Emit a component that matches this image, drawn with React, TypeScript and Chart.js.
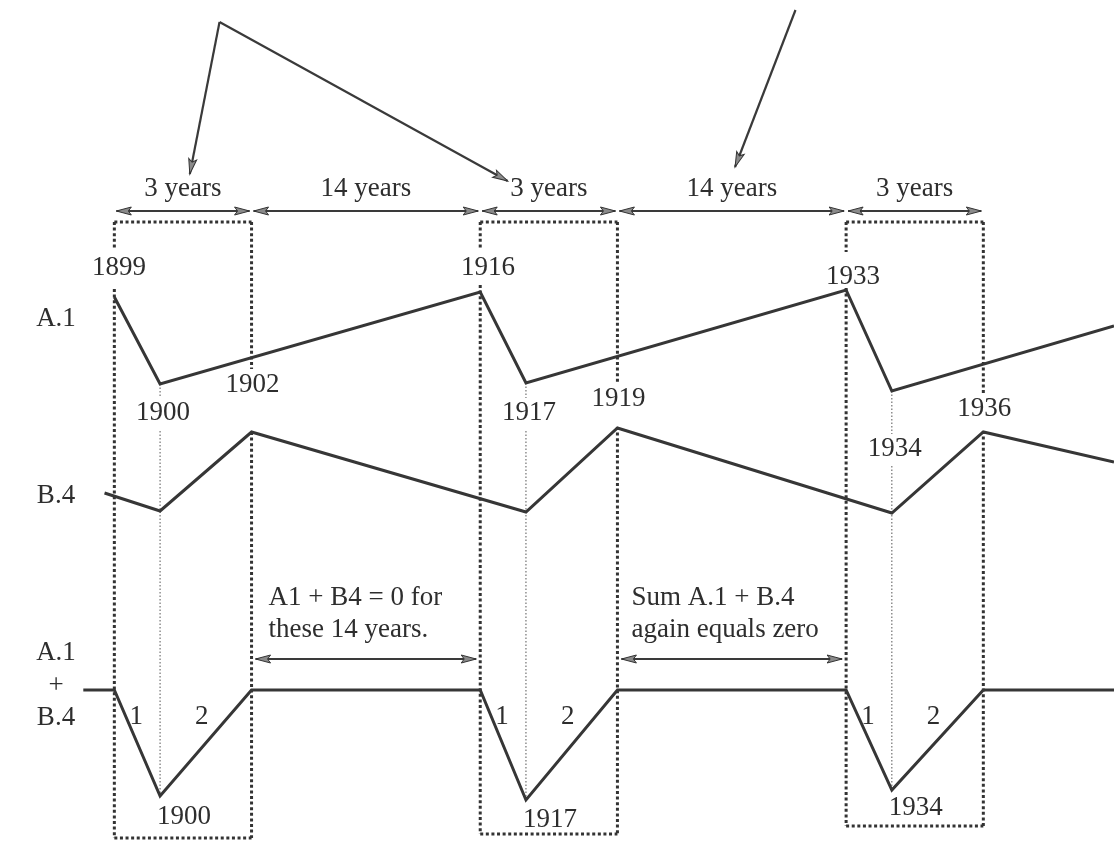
import React, { useEffect, useRef } from "react";
import { Chart, registerables } from "chart.js";

Chart.register(...registerables);

// ---- data (schematic values) ----
const a1Years = [1899, 1900, 1916, 1917, 1933, 1934, 1944];
const a1Values = [8.7, 0, 9.2, 0.1, 9.4, -0.7, 5.8];

const b4Years = [1898.4, 1900, 1902, 1917, 1919, 1934, 1936, 1944];
const b4Values = [1.8, 0, 7.9, -0.1, 8.3, -0.2, 7.9, 4.9];

const sumYears = [1897.1, 1899, 1900, 1902, 1916, 1917, 1919, 1933, 1934, 1936, 1944];
const sumValues = [0, 0, -10.6, 0, 0, -11.0, 0, 0, -10.0, 0, 0];

const boxStarts = [1899, 1916, 1933];
const boxLength = 3;
const spanLabels = ["3 years", "14 years", "3 years", "14 years", "3 years"];
const spanBounds = [1899, 1902, 1916, 1919, 1933, 1936];
const peakLabelsA = ["1899", "1916", "1933"];
const troughLabels = ["1900", "1917", "1934"];
const peakLabelsB = ["1902", "1919", "1936"];
const stepLabels = ["1", "2"];
const noteLeft = ["A1 + B4 = 0 for", "these 14 years."];
const noteRight = ["Sum A.1 + B.4", "again equals zero"];

const X_MIN_YEAR = 1892;
const X_MAX_YEAR = 1944;
// the drawing widens the boxed 3-year windows
const BOX_STRETCH = 2.8;

function warp(year: number): number {
  let w = year;
  for (const s of boxStarts) {
    w += (BOX_STRETCH - 1) * Math.min(Math.max(year - s, 0), boxLength);
  }
  return w;
}

const W = 1114;
const H = 842;
const UNIT_PX = 10;
function band(zeroPx: number) {
  return { type: "linear" as const, display: false, min: -(H - zeroPx) / UNIT_PX, max: zeroPx / UNIT_PX };
}

const INK = "#363636";
const FONT = '27px "Liberation Serif", "Times New Roman", serif';

function arrowHead(ctx: CanvasRenderingContext2D, x: number, y: number, angle: number) {
  const len = 15;
  const hw = 4;
  ctx.save();
  ctx.translate(x, y);
  ctx.rotate(angle);
  ctx.beginPath();
  ctx.moveTo(0, 0);
  ctx.lineTo(-len, -hw);
  ctx.lineTo(-len * 0.8, 0);
  ctx.lineTo(-len, hw);
  ctx.closePath();
  ctx.fillStyle = "#8a8a8a";
  ctx.strokeStyle = "#333";
  ctx.lineWidth = 1;
  ctx.setLineDash([]);
  ctx.fill();
  ctx.stroke();
  ctx.restore();
}

function arrow(ctx: CanvasRenderingContext2D, x1: number, y1: number, x2: number, y2: number, both: boolean) {
  ctx.save();
  ctx.strokeStyle = "#3a3a3a";
  ctx.lineWidth = 2.2;
  ctx.setLineDash([]);
  ctx.beginPath();
  ctx.moveTo(x1, y1);
  ctx.lineTo(x2, y2);
  ctx.stroke();
  ctx.restore();
  const a = Math.atan2(y2 - y1, x2 - x1);
  arrowHead(ctx, x2, y2, a);
  if (both) arrowHead(ctx, x1, y1, a + Math.PI);
}

function vDotted(ctx: CanvasRenderingContext2D, x: number, segs: number[][], heavy: boolean) {
  ctx.save();
  ctx.strokeStyle = heavy ? "#333" : "#555";
  ctx.lineWidth = heavy ? 3 : 1;
  ctx.setLineDash(heavy ? [3, 2.6] : [1.5, 2]);
  for (const [a, b] of segs) {
    if (b <= a) continue;
    ctx.beginPath();
    ctx.moveTo(x, a);
    ctx.lineTo(x, b);
    ctx.stroke();
  }
  ctx.restore();
}

function hDotted(ctx: CanvasRenderingContext2D, x1: number, x2: number, y: number) {
  ctx.save();
  ctx.strokeStyle = "#333";
  ctx.lineWidth = 3;
  ctx.setLineDash([3, 2.6]);
  ctx.beginPath();
  ctx.moveTo(x1, y);
  ctx.lineTo(x2, y);
  ctx.stroke();
  ctx.restore();
}

const diagramPlugin = {
  id: "diagram",
  beforeDatasetsDraw(chart: any) {
    const ctx: CanvasRenderingContext2D = chart.ctx;
    const xs = chart.scales.x;
    const X = (yr: number) => xs.getPixelForValue(warp(yr));
    const boxTop = 222;
    const boxBottoms = [838, 834, 826];
    const leftGaps = [[249, 289], [249, 285], [252, 288]];
    const rightGaps = [[369, 432], [383, 427], [393, 431]];
    boxStarts.forEach((s, i) => {
      const xl = X(s);
      const xr = X(s + boxLength);
      const bot = boxBottoms[i];
      hDotted(ctx, xl, xr, boxTop);
      hDotted(ctx, xl, xr, bot);
      vDotted(ctx, xl, [[boxTop, leftGaps[i][0]], [leftGaps[i][1], bot]], true);
      vDotted(ctx, xr, [[boxTop, rightGaps[i][0]], [rightGaps[i][1], bot]], true);
    });
    // thin dotted guides at trough years
    const yA = chart.scales.yA;
    const yS = chart.scales.yS;
    const thinGaps = [[398, 431], [398, 431], [434, 466]];
    boxStarts.forEach((s, i) => {
      const yr = s + 1;
      const top = yA.getPixelForValue(a1Values[a1Years.indexOf(yr)]);
      const bot = yS.getPixelForValue(sumValues[sumYears.indexOf(yr)]);
      vDotted(ctx, X(yr), [[top, thinGaps[i][0]], [thinGaps[i][1], bot]], false);
    });
  },
  afterDatasetsDraw(chart: any) {
    const ctx: CanvasRenderingContext2D = chart.ctx;
    const xs = chart.scales.x;
    const X = (yr: number) => xs.getPixelForValue(warp(yr));
    ctx.save();
    ctx.font = FONT;
    ctx.fillStyle = "#2e2e2e";
    ctx.textBaseline = "middle";
    ctx.textAlign = "center";

    // top span arrows + labels
    for (let i = 0; i < spanLabels.length; i++) {
      const x1 = X(spanBounds[i]);
      const x2 = X(spanBounds[i + 1]);
      arrow(ctx, x1 + 2, 211, x2 - 2, 211, true);
      ctx.fillText(spanLabels[i], (x1 + x2) / 2, 189);
    }

    // pointer arrows at top
    arrow(ctx, X(1901.3), 22, X(1900.65), 174, false);
    arrow(ctx, X(1901.3), 22, X(1916.6), 181, false);
    arrow(ctx, X(1929.9), 10, X(1926.2), 167, false);

    // year labels
    const peakAY = [268, 268, 277];
    const peakAX = [119, 488, 853];
    peakLabelsA.forEach((t, i) => ctx.fillText(t, peakAX[i], peakAY[i]));
    const troughY = [413, 413, 449];
    troughLabels.forEach((t, i) => ctx.fillText(t, X(boxStarts[i] + 1) + 3, troughY[i]));
    const peakBY = [385, 399, 409];
    peakLabelsB.forEach((t, i) => ctx.fillText(t, X(boxStarts[i] + boxLength) + 1, peakBY[i]));
    const lowY = [817, 820, 808];
    troughLabels.forEach((t, i) => ctx.fillText(t, X(boxStarts[i] + 1) + 24, lowY[i]));
    boxStarts.forEach((s) => {
      ctx.fillText(stepLabels[0], X(s + 0.5) - 1, 717);
      ctx.fillText(stepLabels[1], X(s + 2) - 4, 717);
    });

    // notes + double arrows
    ctx.textAlign = "left";
    ctx.fillText(noteLeft[0], X(1902) + 17, 598);
    ctx.fillText(noteLeft[1], X(1902) + 17, 630);
    ctx.fillText(noteRight[0], X(1919) + 14, 598);
    ctx.fillText(noteRight[1], X(1919) + 14, 630);
    arrow(ctx, X(1902) + 4, 659, X(1916) - 4, 659, true);
    arrow(ctx, X(1919) + 4, 659, X(1933) - 4, 659, true);

    // series labels
    ctx.textAlign = "center";
    ctx.fillText("A.1", 56, 319);
    ctx.fillText("B.4", 56, 496);
    ctx.fillText("A.1", 56, 653);
    ctx.fillText("+", 56, 686);
    ctx.fillText("B.4", 56, 718);
    ctx.restore();
  },
};

function toPoints(xsYears: number[], vals: number[]) {
  return xsYears.map((yr, i) => ({ x: warp(yr), y: vals[i] }));
}

export default function App() {
  const ref = useRef<HTMLCanvasElement | null>(null);
  useEffect(() => {
    if (!ref.current) return;
    const line = {
      borderColor: INK,
      borderWidth: 3,
      pointRadius: 0,
      tension: 0,
      fill: false,
      clip: false as const,
      borderJoinStyle: "miter" as const,
    };
    const chart = new Chart(ref.current, {
      type: "line",
      data: {
        datasets: [
          { label: "A.1", data: toPoints(a1Years, a1Values), yAxisID: "yA", ...line },
          { label: "B.4", data: toPoints(b4Years, b4Values), yAxisID: "yB", ...line },
          { label: "A.1 + B.4", data: toPoints(sumYears, sumValues), yAxisID: "yS", ...line },
        ],
      },
      options: {
        responsive: false,
        animation: false,
        events: [],
        devicePixelRatio: 1,
        layout: { padding: 0 },
        plugins: { legend: { display: false }, tooltip: { enabled: false } },
        scales: {
          x: { type: "linear", display: false, min: warp(X_MIN_YEAR), max: warp(X_MAX_YEAR) },
          yA: band(384),
          yB: band(511),
          yS: band(690),
        },
      },
      plugins: [diagramPlugin],
    });
    return () => chart.destroy();
  }, []);
  return (
    <div style={{ position: "fixed", left: 0, top: 0, width: W, height: H, background: "#fff" }}>
      <canvas ref={ref} width={W} height={H} style={{ width: W, height: H, display: "block" }} />
    </div>
  );
}
